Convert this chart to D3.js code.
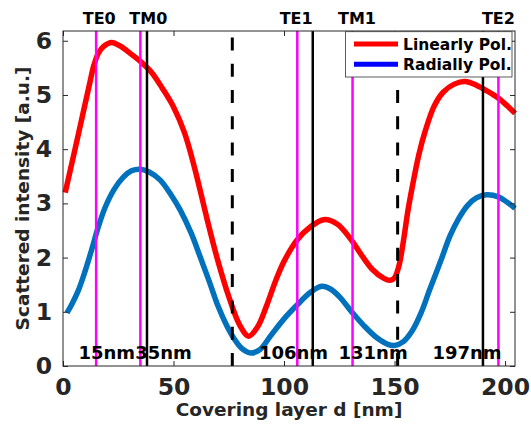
<!DOCTYPE html>
<html>
<head>
<meta charset="utf-8">
<script src="https://cdn.jsdelivr.net/npm/d3@7"></script>
<style>
  html, body { margin: 0; padding: 0; background: #fff; }
  svg { display: block; font-family: "DejaVu Sans", Verdana, sans-serif; }
</style>
</head>
<body>
<svg id="chart" width="531" height="427"></svg>
<script>
// ---- data ----
const dRed = [1, 5, 9, 12, 14, 16, 18.5, 22, 26, 30, 35, 40, 45, 50, 55, 60, 65, 70, 75, 80, 84, 88, 92, 96, 100, 106, 112, 118, 124, 130, 135, 140, 145, 148, 150, 152, 154, 156, 158, 161, 164, 168, 172, 177, 182, 187, 192, 197, 201, 204.5];
const red  = [3.2, 3.92, 4.65, 5.2, 5.55, 5.77, 5.9, 5.97, 5.9, 5.78, 5.62, 5.42, 5.12, 4.78, 4.3, 3.58, 2.74, 1.95, 1.28, 0.75, 0.55, 0.72, 1.1, 1.55, 1.93, 2.33, 2.57, 2.7, 2.62, 2.35, 2.05, 1.78, 1.62, 1.58, 1.63, 1.85, 2.3, 2.85, 3.3, 3.9, 4.35, 4.8, 5.05, 5.2, 5.25, 5.18, 5.07, 4.94, 4.8, 4.66];
const dBlue = [1.8, 4, 7, 10, 13, 16, 19, 23, 27, 31, 35, 39, 44, 49, 53, 58, 62, 66, 70, 74, 77, 81, 85, 89, 94, 100, 106, 112, 117, 121, 125, 131, 136, 142, 147, 150, 154, 158, 162, 166, 171, 175, 179, 183, 187, 191.7, 197, 201, 204.5];
const blue  = [0.98, 1.14, 1.4, 1.75, 2.15, 2.57, 2.92, 3.25, 3.47, 3.6, 3.63, 3.58, 3.43, 3.15, 2.88, 2.45, 2.02, 1.58, 1.12, 0.75, 0.53, 0.32, 0.24, 0.3, 0.56, 0.87, 1.13, 1.36, 1.47, 1.42, 1.28, 0.98, 0.75, 0.52, 0.4, 0.38, 0.45, 0.65, 0.98, 1.42, 1.95, 2.39, 2.72, 2.96, 3.1, 3.16, 3.12, 3.02, 2.91];
const seriesNames = ["Linearly Pol.", "Radially Pol."];
const magentaLines = [15, 35, 106, 131, 197];
const blackLines = [38, 113, 190];
const dashedLines = [76.6, 151.4];
const topLabels = ["TE0", "TM0", "TE1", "TM1", "TE2"];
const topLabelPos = [16.4, 38.6, 105.5, 133, 197];
const bottomLabels = ["15nm", "35nm", "106nm", "131nm", "197nm"];
const bottomLabelPos = [19.8, 45.5, 104.3, 140.3, 182.8];
const xTicks = [0, 50, 100, 150, 200];
const yTicks = [0, 1, 2, 3, 4, 5, 6];
const xLabel = "Covering layer d [nm]";
const yLabel = "Scattered intensity [a.u.]";

// ---- layout ----
const L = 63, R = 515, T = 31, B = 366;
const axisColor = "#262626";
const svg = d3.select("#chart");
const x = d3.scaleLinear().domain([0, 204.5]).range([L, R]);
const y = d3.scaleLinear().domain([0, 6.18]).range([B, T]);

svg.append("rect").attr("x", L).attr("y", T).attr("width", R - L).attr("height", B - T).attr("fill", "#fff");

const plot = svg.append("g");
const line = d3.line().x(d => x(d[0])).y(d => y(d[1])).curve(d3.curveCatmullRom.alpha(0.5));

plot.append("path").datum(dBlue.map((d, i) => [d, blue[i]]))
  .attr("d", line).attr("fill", "none").attr("stroke", "#0072BD").attr("stroke-width", 5.5).attr("stroke-linejoin", "round");
plot.append("path").datum(dRed.map((d, i) => [d, red[i]]))
  .attr("d", line).attr("fill", "none").attr("stroke", "#ff0000").attr("stroke-width", 5.5).attr("stroke-linejoin", "round");

// vertical lines
plot.selectAll(".mag").data(magentaLines).join("line")
  .attr("x1", d => x(d)).attr("x2", d => x(d)).attr("y1", y(0)).attr("y2", T)
  .attr("stroke", "#ff00ff").attr("stroke-width", 2.5);
plot.selectAll(".blk").data(blackLines).join("line")
  .attr("x1", d => x(d)).attr("x2", d => x(d)).attr("y1", y(0)).attr("y2", T)
  .attr("stroke", "#000").attr("stroke-width", 2.5);
plot.selectAll(".dsh").data(dashedLines).join("line")
  .attr("x1", d => x(d)).attr("x2", d => x(d)).attr("y1", y(0)).attr("y2", T)
  .attr("stroke", "#000").attr("stroke-width", 3).attr("stroke-dasharray", "13,13.3");

// axes
function styleAxis(g) {
  g.select(".domain").remove();
  g.selectAll(".tick line").attr("stroke", axisColor).attr("stroke-width", 1);
  g.selectAll(".tick text").attr("fill", axisColor).attr("font-size", 23.5).attr("font-weight", "bold")
    .attr("font-family", "DejaVu Sans, Verdana, sans-serif");
}
svg.append("g").attr("transform", `translate(0,${B})`)
  .call(d3.axisBottom(x).tickValues(xTicks).tickSizeInner(-5).tickSizeOuter(0).tickPadding(12).tickFormat(d3.format("d")))
  .call(styleAxis);
svg.append("g").attr("transform", `translate(0,${T})`)
  .call(d3.axisTop(x).tickValues(xTicks).tickSizeInner(-5).tickSizeOuter(0).tickFormat(""))
  .call(styleAxis);
svg.append("g").attr("transform", `translate(${L},0)`)
  .call(d3.axisLeft(y).tickValues(yTicks).tickSizeInner(-5).tickSizeOuter(0).tickPadding(11).tickFormat(d3.format("d")))
  .call(styleAxis);
svg.append("g").attr("transform", `translate(${R},0)`)
  .call(d3.axisRight(y).tickValues(yTicks).tickSizeInner(-5).tickSizeOuter(0).tickFormat(""))
  .call(styleAxis);

// frame
svg.append("rect").attr("x", L).attr("y", T).attr("width", R - L).attr("height", B - T)
  .attr("fill", "none").attr("stroke", axisColor).attr("stroke-width", 1);

// bottom annotations
svg.selectAll(".blab").data(bottomLabels).join("text")
  .attr("x", (d, i) => x(bottomLabelPos[i])).attr("y", 358.5)
  .attr("text-anchor", "middle").attr("font-size", 18).attr("font-weight", "bold").attr("fill", "#000")
  .text(d => d);

// top labels
svg.selectAll(".tlab").data(topLabels).join("text")
  .attr("x", (d, i) => x(topLabelPos[i])).attr("y", 23.5)
  .attr("text-anchor", "middle").attr("font-size", 16).attr("font-weight", "bold").attr("fill", "#000")
  .text(d => d);

// axis labels
svg.append("text").attr("x", (L + R) / 2).attr("y", 416).attr("text-anchor", "middle")
  .attr("font-size", 18.5).attr("font-weight", "bold").attr("fill", axisColor).text(xLabel);
svg.append("text").attr("transform", `translate(29,${(T + B) / 2}) rotate(-90)`).attr("text-anchor", "middle")
  .attr("font-size", 18.5).attr("font-weight", "bold").attr("fill", axisColor).text(yLabel);

// legend
const lg = svg.append("g");
lg.append("rect").attr("x", 345.5).attr("y", 31.7).attr("width", 166.5).attr("height", 45.3)
  .attr("fill", "#fff").attr("stroke", "#333").attr("stroke-width", 0.8);
const legColors = ["#ff0000", "#0000ff"];
const legY = [44, 64.3];
seriesNames.forEach((n, i) => {
  lg.append("line").attr("x1", 354).attr("x2", 398).attr("y1", legY[i]).attr("y2", legY[i])
    .attr("stroke", legColors[i]).attr("stroke-width", 5);
  lg.append("text").attr("x", 403).attr("y", legY[i] + 5.6).attr("font-size", 15.5).attr("font-weight", "bold")
    .attr("fill", "#000").text(n);
});
</script>
</body>
</html>
